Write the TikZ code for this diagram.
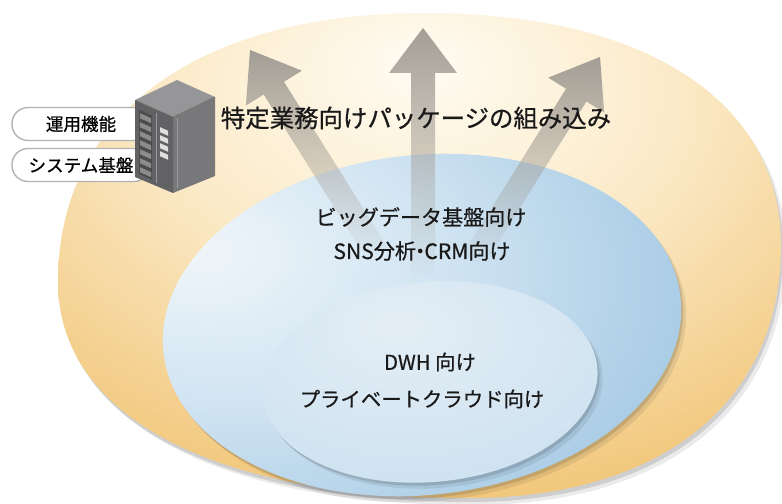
\documentclass[tikz,border=0pt]{standalone}
\usepackage{fontspec}
\setmainfont{Noto Sans CJK JP}[FakeBold=0.6]
\usetikzlibrary{fadings}

\definecolor{ocream}{RGB}{255,252,243}
\definecolor{olight}{RGB}{251,234,200}
\definecolor{oorange}{RGB}{240,192,108}
\definecolor{odeep}{RGB}{235,180,86}
\definecolor{bwhite}{RGB}{240,246,250}
\definecolor{blight}{RGB}{212,230,243}
\definecolor{bmid}{RGB}{146,190,222}
\definecolor{bdeep}{RGB}{118,168,208}
\definecolor{iwhite}{RGB}{228,238,246}
\definecolor{ilight}{RGB}{206,226,240}
\definecolor{ideep}{RGB}{178,206,229}
\definecolor{arrowgray}{RGB}{163,158,150}
\definecolor{pillgray}{RGB}{178,178,178}
\definecolor{srvtop}{RGB}{150,150,152}
\definecolor{srvfront}{RGB}{98,98,101}
\definecolor{srvside}{RGB}{120,120,123}

% glow of the three rings
\pgfdeclareradialshading{outerglow}{\pgfpoint{0bp}{20bp}}{color(0bp)=(ocream); color(18bp)=(olight); color(42bp)=(oorange); color(62bp)=(odeep); color(100bp)=(odeep)}
\pgfdeclareradialshading{midglow}{\pgfpoint{-22bp}{12bp}}{color(0bp)=(bwhite); color(18bp)=(blight); color(50bp)=(bmid); color(75bp)=(bdeep); color(100bp)=(bdeep)}
\pgfdeclareradialshading{innerglow}{\pgfpoint{-5bp}{15bp}}{color(0bp)=(iwhite); color(35bp)=(ilight); color(65bp)=(ideep); color(100bp)=(ideep)}

\tikzfading[name=shaftfade, top color=transparent!0, bottom color=transparent!100]

\tikzset{
  outer outline/.style={insert path={(425,13) .. controls (646,13) and (781,101) .. (781,245)
    .. controls (781,402) and (662,498) .. (468,498)
    .. controls (214,498) and (58,416) .. (58,282)
    .. controls (58,115) and (197,13) .. (425,13) -- cycle}},
  ring shadow/.style={fill=black, opacity=#1},
  bigarrow/.style={fill=arrowgray, path fading=shaftfade},
  tag/.style={draw=pillgray, fill=white, line width=0.8pt, rounded corners=0.32cm,
    minimum width=2.76cm, minimum height=0.66cm, inner sep=0pt, font=\fontsize{10}{12}\selectfont},
  label/.style={text=black!90, inner sep=1pt}
}

\begin{document}
\begin{tikzpicture}[x=0.02cm, y=-0.02cm]
\useasboundingbox (0,0) rectangle (782,504);

% outer ring
\path[ring shadow=0.08, shift={(5,7)}, outer outline];
\path[ring shadow=0.12, shift={(2,4)}, outer outline];
\path[shading=outerglow, outer outline];

% middle ring
\path[ring shadow=0.08] (427,331) ellipse[x radius=260, y radius=170, rotate=6];
\path[ring shadow=0.12] (424,328) ellipse[x radius=260, y radius=170, rotate=6];
\path[shading=midglow] (422,325) ellipse[x radius=260, y radius=170, rotate=6];

% inner ring
\path[ring shadow=0.08] (435,388) ellipse[x radius=168, y radius=100, rotate=5];
\path[ring shadow=0.12] (432,385) ellipse[x radius=168, y radius=100, rotate=5];
\path[shading=innerglow] (430,382) ellipse[x radius=168, y radius=100, rotate=5];

% three arrows going out
\begin{scope}[shift={(423,28)}]
  \fill[bigarrow] (0,0) -- (34,45) -- (12,45) -- (12,250) -- (-12,250) -- (-12,45) -- (-34,45) -- cycle;
\end{scope}
\begin{scope}[shift={(250,50)}, rotate=32]
  \fill[bigarrow] (0,0) -- (33,45) -- (12,45) -- (12,240) -- (-12,240) -- (-12,45) -- (-33,45) -- cycle;
\end{scope}
\begin{scope}[shift={(600,57)}, rotate=-32]
  \fill[bigarrow] (0,0) -- (33,45) -- (12,45) -- (12,240) -- (-12,240) -- (-12,45) -- (-33,45) -- cycle;
\end{scope}

% labels on the left
\node[tag] (ops) at (81,124) {運用機能};
\node[tag] (base) at (81,165) {システム基盤};

% server cabinet
\fill[srvtop] (177,80) -- (215,97) -- (173,117) -- (135,100) -- cycle;
\fill[srvfront] (135,100) -- (173,117) -- (173,193) -- (135,177) -- cycle;
\fill[srvside] (173,117) -- (215,97) -- (215,176) -- (173,193) -- cycle;
\draw[black!55, line width=0.3pt] (135,100) -- (173,117) -- (215,97);
\draw[black!55, line width=0.3pt] (173,117) -- (173,193);
\begin{scope}[shift={(135,100)}, yslant=-0.447]
  \fill[black!70] (4,8) rectangle (17,72);
  \foreach \k in {0,...,6}
    \fill[black!45] (5,11+9*\k) rectangle (16,16+9*\k);
  \draw[black!40, line width=0.3pt] (21,4) -- (21,74);
  \foreach \k in {0,...,3}
    \fill[black!12] (25,16+8*\k) rectangle (33,21+8*\k);
\end{scope}
\begin{scope}[shift={(173,117)}, yslant=0.476]
  \draw[black!40, line width=0.3pt] (4,3) -- (4,73);
  \draw[black!50, line width=0.3pt] (36,66) circle[radius=2.5];
\end{scope}

% headline and ring texts
\node[label, font=\fontsize{13.9}{16}\selectfont] (title) at (416,118) {特定業務向けパッケージの組み込み};
\node[label, font=\fontsize{12}{14}\selectfont] (bigdata) at (421,217) {ビッグデータ基盤向け};
\node[label, font=\fontsize{12}{14}\selectfont] (sns) at (422,251) {SNS分析\kern-0.3em・\kern-0.3em CRM向け};
\node[label, font=\fontsize{11.6}{14}\selectfont] (dwh) at (430,362) {DWH 向け};
\node[label, font=\fontsize{11.6}{14}\selectfont] (cloud) at (422,399) {プライベートクラウド向け};
\end{tikzpicture}
\end{document}
